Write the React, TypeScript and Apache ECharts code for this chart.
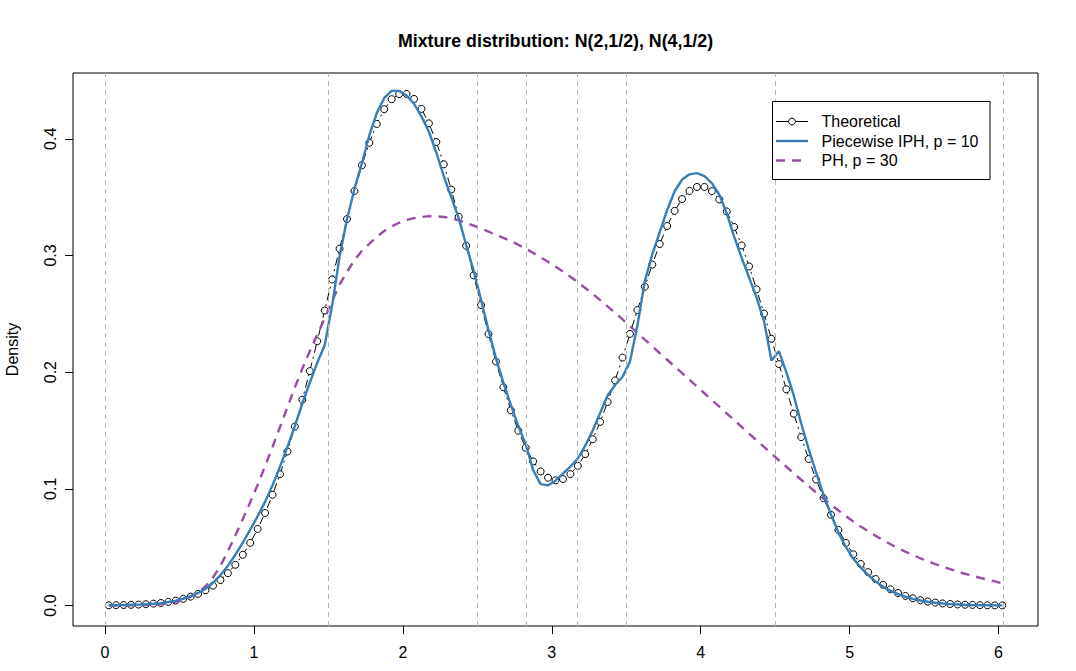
import React, { useEffect, useRef } from "react";
import * as echarts from "echarts";

// x grid at which the three densities are drawn
const X = [
  0.025, 0.075, 0.125, 0.175, 0.225, 0.275, 0.325, 0.375, 0.425, 0.475,
  0.525, 0.575, 0.625, 0.675, 0.725, 0.775, 0.825, 0.875, 0.925, 0.975,
  1.025, 1.075, 1.125, 1.175, 1.225, 1.275, 1.325, 1.375, 1.425, 1.475,
  1.525, 1.575, 1.625, 1.675, 1.725, 1.775, 1.825, 1.875, 1.925, 1.975,
  2.025, 2.075, 2.125, 2.175, 2.225, 2.275, 2.325, 2.375, 2.425, 2.475,
  2.525, 2.575, 2.625, 2.675, 2.725, 2.775, 2.825, 2.875, 2.925, 2.975,
  3.025, 3.075, 3.125, 3.175, 3.225, 3.275, 3.325, 3.375, 3.425, 3.475,
  3.525, 3.575, 3.625, 3.675, 3.725, 3.775, 3.825, 3.875, 3.925, 3.975,
  4.025, 4.075, 4.125, 4.175, 4.225, 4.275, 4.325, 4.375, 4.425, 4.475,
  4.525, 4.575, 4.625, 4.675, 4.725, 4.775, 4.825, 4.875, 4.925, 4.975,
  5.025, 5.075, 5.125, 5.175, 5.225, 5.275, 5.325, 5.375, 5.425, 5.475,
  5.525, 5.575, 5.625, 5.675, 5.725, 5.775, 5.825, 5.875, 5.925, 5.975,
  6.025,
];

const THEORETICAL = [
  0.0002, 0.0003, 0.0004, 0.0006, 0.0008, 0.0011, 0.0016, 0.0022, 0.0031, 0.0042,
  0.0057, 0.0076, 0.0100, 0.0131, 0.0170, 0.0218, 0.0277, 0.0349, 0.0435, 0.0537,
  0.0656, 0.0793, 0.0949, 0.1125, 0.1320, 0.1534, 0.1764, 0.2009, 0.2265, 0.2528,
  0.2794, 0.3058, 0.3312, 0.3552, 0.3772, 0.3965, 0.4127, 0.4253, 0.4339, 0.4383,
  0.4384, 0.4341, 0.4256, 0.4132, 0.3972, 0.3781, 0.3565, 0.3331, 0.3083, 0.2829,
  0.2575, 0.2327, 0.2091, 0.1871, 0.1673, 0.1498, 0.1352, 0.1235, 0.1149, 0.1095,
  0.1073, 0.1084, 0.1126, 0.1197, 0.1298, 0.1425, 0.1574, 0.1744, 0.1929, 0.2125,
  0.2328, 0.2532, 0.2732, 0.2922, 0.3098, 0.3252, 0.3382, 0.3483, 0.3553, 0.3587,
  0.3587, 0.3551, 0.3480, 0.3377, 0.3244, 0.3086, 0.2906, 0.2710, 0.2502, 0.2286,
  0.2069, 0.1853, 0.1644, 0.1443, 0.1255, 0.1080, 0.0920, 0.0777, 0.0648, 0.0536,
  0.0439, 0.0356, 0.0286, 0.0227, 0.0178, 0.0139, 0.0107, 0.0082, 0.0062, 0.0046,
  0.0034, 0.0025, 0.0018, 0.0013, 0.0009, 0.0007, 0.0005, 0.0003, 0.0002, 0.0001,
  0.0001,
];

const PIECEWISE_IPH = [
  0.0002, 0.0003, 0.0004, 0.0006, 0.0008, 0.0011, 0.0015, 0.0021, 0.0030, 0.0042,
  0.0058, 0.0080, 0.0108, 0.0145, 0.0195, 0.0260, 0.0340, 0.0435, 0.0540, 0.0650,
  0.0765, 0.0890, 0.1030, 0.1190, 0.1360, 0.1540, 0.1730, 0.1910, 0.2080, 0.2230,
  0.2570, 0.2990, 0.3310, 0.3570, 0.3790, 0.4030, 0.4220, 0.4350, 0.4410, 0.4410,
  0.4370, 0.4300, 0.4190, 0.4060, 0.3880, 0.3680, 0.3500, 0.3320, 0.3090, 0.2870,
  0.2620, 0.2360, 0.2120, 0.1910, 0.1720, 0.1540, 0.1380, 0.1160, 0.1040, 0.1030,
  0.1070, 0.1130, 0.1190, 0.1260, 0.1370, 0.1500, 0.1650, 0.1800, 0.1890, 0.1960,
  0.2090, 0.2400, 0.2780, 0.3010, 0.3200, 0.3390, 0.3550, 0.3650, 0.3695, 0.3705,
  0.3680, 0.3620, 0.3520, 0.3360, 0.3160, 0.2980, 0.2810, 0.2640, 0.2440, 0.2100,
  0.2180, 0.2000, 0.1800, 0.1560, 0.1340, 0.1140, 0.0950, 0.0780, 0.0625, 0.0500,
  0.0400, 0.0325, 0.0260, 0.0205, 0.0160, 0.0125, 0.0097, 0.0075, 0.0057, 0.0043,
  0.0032, 0.0024, 0.0017, 0.0012, 0.0009, 0.0006, 0.0004, 0.0003, 0.0002, 0.0001,
  0.0001,
];

const PH = [
  0.0000, 0.0000, 0.0000, 0.0001, 0.0002, 0.0004, 0.0007, 0.0012, 0.0020, 0.0032,
  0.0050, 0.0075, 0.0110, 0.0165, 0.0240, 0.0340, 0.0465, 0.0600, 0.0740, 0.0885,
  0.1035, 0.1195, 0.1360, 0.1530, 0.1700, 0.1870, 0.2030, 0.2180, 0.2320, 0.2460,
  0.2610, 0.2750, 0.2860, 0.2960, 0.3040, 0.3100, 0.3160, 0.3210, 0.3250, 0.3280,
  0.3305, 0.3320, 0.3330, 0.3337, 0.3335, 0.3330, 0.3318, 0.3300, 0.3280, 0.3255,
  0.3230, 0.3205, 0.3175, 0.3150, 0.3125, 0.3092, 0.3058, 0.3022, 0.2985, 0.2946,
  0.2905, 0.2862, 0.2817, 0.2770, 0.2721, 0.2670, 0.2617, 0.2563, 0.2508, 0.2452,
  0.2395, 0.2337, 0.2279, 0.2221, 0.2163, 0.2106, 0.2049, 0.1991, 0.1934, 0.1876,
  0.1819, 0.1761, 0.1704, 0.1646, 0.1589, 0.1531, 0.1474, 0.1416, 0.1359, 0.1302,
  0.1245, 0.1189, 0.1133, 0.1078, 0.1023, 0.0969, 0.0916, 0.0864, 0.0814, 0.0766,
  0.0720, 0.0677, 0.0636, 0.0597, 0.0560, 0.0525, 0.0492, 0.0461, 0.0432, 0.0405,
  0.0380, 0.0355, 0.0332, 0.0311, 0.0291, 0.0272, 0.0255, 0.0238, 0.0222, 0.0207,
  0.0190,
];

// vertical dashed reference lines (breakpoints)
const BREAKS = [0, 1.5, 2.5, 2.8333, 3.1667, 3.5, 4.5, 6.025];

const X_TICKS = [0, 1, 2, 3, 4, 5, 6];
const Y_TICKS = [0, 0.1, 0.2, 0.3, 0.4];

const TITLE = "Mixture distribution: N(2,1/2), N(4,1/2)";
const Y_NAME = "Density";
const LEGEND_LABELS = ["Theoretical", "Piecewise IPH, p = 10", "PH, p = 30"];

const BLUE = "#377EB8";
const PURPLE = "#984EA3";
const GREY = "#b4b4b4";
const FONT = "'Liberation Sans', Arial, Helvetica, sans-serif";

const X_MIN = -0.215;
const X_MAX = 6.265;
const Y_MIN = -0.01755;
const Y_MAX = 0.45635;

const GRID = { left: 73, right: 38, top: 73, bottom: 45 };
const W = 1076;
const H = 671;
const TICK_LEN = 8;

export default function App() {
  const ref = useRef<HTMLDivElement>(null);

  useEffect(() => {
    const chart = echarts.init(ref.current as HTMLDivElement, null, { renderer: "svg" });
    const pairs = (ys: number[]) => X.map((x, i) => [x, ys[i]]);

    const legendRows = [121.5, 141, 160.5];

    // geometry of the tick strips, following the main grid's linear scales
    const plotW = W - GRID.left - GRID.right;
    const plotH = H - GRID.top - GRID.bottom;
    const xFirst = X_TICKS[0];
    const xLast = X_TICKS[X_TICKS.length - 1];
    const yFirst = Y_TICKS[0];
    const yLast = Y_TICKS[Y_TICKS.length - 1];
    const tickStripLeft = GRID.left + ((xFirst - X_MIN) / (X_MAX - X_MIN)) * plotW;
    const tickStripWidth = ((xLast - xFirst) / (X_MAX - X_MIN)) * plotW;
    const tickStripTop = GRID.top + plotH - ((yLast - Y_MIN) / (Y_MAX - Y_MIN)) * plotH;
    const tickStripHeight = ((yLast - yFirst) / (Y_MAX - Y_MIN)) * plotH;

    chart.setOption({
      animation: false,
      backgroundColor: "#ffffff",
      grid: [
        {
          ...GRID,
          show: true,
          borderColor: "#000",
          borderWidth: 1,
          backgroundColor: "transparent",
        },
        {
          left: tickStripLeft,
          width: tickStripWidth,
          top: H - GRID.bottom,
          height: TICK_LEN,
          show: false,
        },
        {
          left: GRID.left - TICK_LEN,
          width: TICK_LEN,
          top: tickStripTop,
          height: tickStripHeight,
          show: false,
        },
      ],
      xAxis: [
        {
          type: "value",
          gridIndex: 0,
          min: X_MIN,
          max: X_MAX,
          axisLine: { show: false, onZero: false },
          splitLine: { show: false },
          axisTick: { show: false },
          axisLabel: {
            customValues: X_TICKS,
            formatter: (v: number) => String(v),
            color: "#000",
            fontSize: 16,
            fontFamily: FONT,
            margin: 18,
          },
        },
        {
          type: "value",
          gridIndex: 1,
          min: xFirst,
          max: xLast,
          interval: 1,
          position: "top",
          axisLine: { show: false, onZero: false },
          splitLine: { show: false },
          axisLabel: { show: false },
          axisTick: {
            show: true,
            inside: true,
            length: TICK_LEN,
            lineStyle: { color: "#000", width: 1 },
          },
        },
        {
          type: "value",
          gridIndex: 2,
          show: false,
          min: 0,
          max: 1,
        },
      ],
      yAxis: [
        {
          type: "value",
          gridIndex: 0,
          min: Y_MIN,
          max: Y_MAX,
          axisLine: { show: false, onZero: false },
          splitLine: { show: false },
          axisTick: { show: false },
          axisLabel: {
            customValues: Y_TICKS,
            formatter: (v: number) => v.toFixed(1),
            rotate: 90,
            color: "#000",
            fontSize: 16,
            fontFamily: FONT,
            margin: 15,
          },
        },
        {
          type: "value",
          gridIndex: 1,
          show: false,
          min: 0,
          max: 1,
        },
        {
          type: "value",
          gridIndex: 2,
          min: yFirst,
          max: yLast,
          interval: 0.1,
          position: "right",
          axisLine: { show: false, onZero: false },
          splitLine: { show: false },
          axisLabel: { show: false },
          axisTick: {
            show: true,
            inside: true,
            length: TICK_LEN,
            lineStyle: { color: "#000", width: 1 },
          },
        },
      ],
      series: [
        {
          name: "Theoretical",
          type: "line",
          xAxisIndex: 0,
          yAxisIndex: 0,
          data: pairs(THEORETICAL),
          showSymbol: true,
          showAllSymbol: true,
          symbol: "circle",
          symbolSize: 7,
          itemStyle: { color: "#ffffff", borderColor: "#000", borderWidth: 1 },
          lineStyle: { color: "#000", width: 1, type: [2, 4, 8, 4] },
          emphasis: { disabled: true },
          z: 2,
          markLine: {
            silent: true,
            symbol: ["none", "none"],
            label: { show: false },
            lineStyle: { color: GREY, width: 1, type: [5, 4] },
            emphasis: { disabled: true },
            data: BREAKS.map((v) => ({ xAxis: v })),
          },
        },
        {
          name: "Piecewise IPH, p = 10",
          type: "line",
          xAxisIndex: 0,
          yAxisIndex: 0,
          data: pairs(PIECEWISE_IPH),
          showSymbol: false,
          lineStyle: { color: BLUE, width: 2.4 },
          emphasis: { disabled: true },
          z: 4,
        },
        {
          name: "PH, p = 30",
          type: "line",
          xAxisIndex: 0,
          yAxisIndex: 0,
          data: pairs(PH),
          showSymbol: false,
          lineStyle: { color: PURPLE, width: 2.4, type: [9, 7] },
          emphasis: { disabled: true },
          z: 3,
        },
      ],
      graphic: [
        {
          type: "text",
          x: 555.5,
          y: 41,
          z: 100,
          style: {
            text: TITLE,
            align: "center",
            verticalAlign: "middle",
            fill: "#000",
            font: `bold 17.8px ${FONT}`,
          },
        },
        {
          type: "text",
          x: 12,
          y: 349.5,
          rotation: Math.PI / 2,
          z: 100,
          style: {
            text: Y_NAME,
            align: "center",
            verticalAlign: "middle",
            fill: "#000",
            font: `16px ${FONT}`,
          },
        },
        {
          type: "rect",
          z: 100,
          shape: { x: 772.5, y: 101.5, width: 217.5, height: 78 },
          style: { fill: "#ffffff", stroke: "#000", lineWidth: 1 },
        },
        {
          type: "line",
          z: 101,
          shape: { x1: 776, y1: legendRows[0], x2: 808, y2: legendRows[0] },
          style: { stroke: "#000", lineWidth: 1 },
        },
        {
          type: "circle",
          z: 102,
          shape: { cx: 792, cy: legendRows[0], r: 3.4 },
          style: { fill: "#ffffff", stroke: "#000", lineWidth: 1 },
        },
        {
          type: "line",
          z: 101,
          shape: { x1: 776, y1: legendRows[1], x2: 808, y2: legendRows[1] },
          style: { stroke: BLUE, lineWidth: 2.4 },
        },
        {
          type: "line",
          z: 101,
          shape: { x1: 776, y1: legendRows[2], x2: 808, y2: legendRows[2] },
          style: { stroke: PURPLE, lineWidth: 2.4, lineDash: [9, 7] },
        },
        ...LEGEND_LABELS.map((t, i) => ({
          type: "text",
          x: 821.5,
          y: legendRows[i],
          z: 102,
          style: {
            text: t,
            align: "left",
            verticalAlign: "middle",
            fill: "#000",
            font: `16px ${FONT}`,
          },
        })),
      ],
    });

    return () => chart.dispose();
  }, []);

  return (
    <div
      ref={ref}
      style={{ position: "fixed", left: 0, top: 0, width: W, height: H, background: "#fff" }}
    />
  );
}
